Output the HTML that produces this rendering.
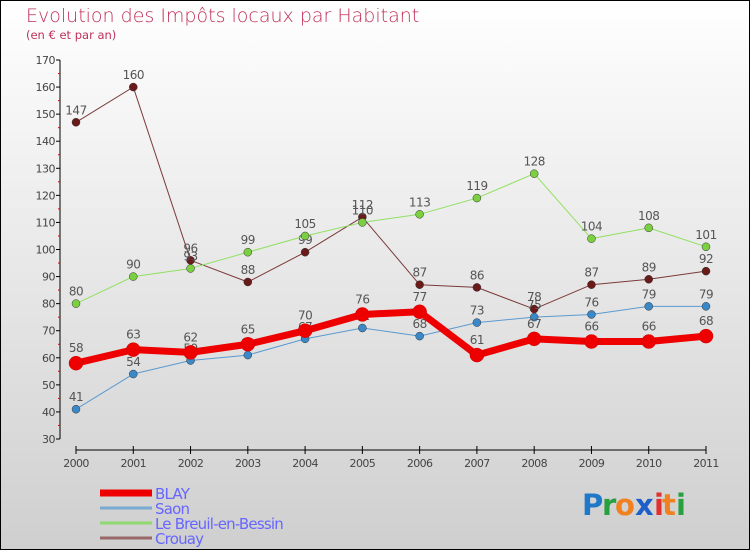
<!DOCTYPE html>
<html><head><meta charset="utf-8"><style>
html,body{margin:0;padding:0}
body{width:750px;height:550px;overflow:hidden;font-family:"DejaVu Sans","Liberation Sans",sans-serif}
svg text{font-family:"DejaVu Sans","Liberation Sans",sans-serif}
</style></head><body>
<svg id="chart" width="750" height="550" viewBox="0 0 750 550" xmlns="http://www.w3.org/2000/svg">
<defs><linearGradient id="bg" x1="0" y1="0" x2="0" y2="1"><stop offset="0" stop-color="#ffffff"/><stop offset="1" stop-color="#cfcfcf"/></linearGradient></defs>
<rect x="0.5" y="0.5" width="749" height="549" fill="url(#bg)" stroke="#000" stroke-width="1"/>
<text x="26" y="22" font-size="19" fill="#c0305a" font-weight="300">Evolution des Impôts locaux par Habitant</text>
<text x="26" y="39" font-size="11.5" fill="#c0305a">(en € et par an)</text>
<g id="axes"></g>
<g id="series"></g>
<g id="legend"></g>
<g font-size="29" font-weight="bold">
<text x="582" y="515" fill="#1f78c8" font-family="Liberation Sans,sans-serif">P</text>
<text x="602" y="515" fill="#28a040" font-family="Liberation Sans,sans-serif">r</text>
<text x="615" y="515" fill="#f08020" font-family="Liberation Sans,sans-serif">o</text>
<text x="635" y="515" fill="#1f60c8" font-family="Liberation Sans,sans-serif">x</text>
<text x="654" y="515" fill="#e03030" font-family="Liberation Sans,sans-serif">i</text>
<text x="662" y="515" fill="#f08020" font-family="Liberation Sans,sans-serif">t</text>
<text x="676" y="515" fill="#28a040" font-family="Liberation Sans,sans-serif">i</text>
</g>
</svg>
<script>
const years = [2000,2001,2002,2003,2004,2005,2006,2007,2008,2009,2010,2011];
const blay = [58,63,62,65,70,76,77,61,67,66,66,68];
const saon = [41,54,59,61,67,71,68,73,75,76,79,79];
const breuil = [80,90,93,99,105,110,113,119,128,104,108,101];
const crouay = [147,160,96,88,99,112,87,86,78,87,89,92];
const yTicks = [30,40,50,60,70,80,90,100,110,120,130,140,150,160,170];
const seriesNames = ["BLAY","Saon","Le Breuil-en-Bessin","Crouay"];

const NS="http://www.w3.org/2000/svg";
const X0=76, X1=706, Y30=439, Y170=60;
const x = i => X0 + i*(X1-X0)/(years.length-1);
const y = v => Y30 - (v-30)*(Y30-Y170)/140;
function mk(tag, attrs, parent){const e=document.createElementNS(NS,tag);for(const k in attrs)e.setAttribute(k,attrs[k]);parent.appendChild(e);return e;}
const axes=document.getElementById('axes');
const yAxis=mk('line',{x1:60,y1:Y170,x2:60,y2:Y30,stroke:'#000','stroke-width':1},axes);


yTicks.forEach((t,k)=>{
  const tk=mk('line',{x1:56,y1:y(t),x2:60,y2:y(t),stroke:'#000'},axes);
  
  
  const lb=mk('text',{x:55,y:y(t)+4,'font-size':11,'text-anchor':'end',fill:'#444','letter-spacing':'-0.5'},axes);
  lb.textContent=t;
  
  
  if(k<yTicks.length-1){
    const m=mk('line',{x1:58,y1:y(t+5),x2:60,y2:y(t+5),stroke:'#e00000'},axes);
    
    
  }
});
const xAxis=mk('line',{x1:X0,y1:450,x2:X1,y2:450,stroke:'#000','stroke-width':1},axes);


years.forEach((yr,i)=>{
  const tk=mk('line',{x1:x(i),y1:446,x2:x(i),y2:454,stroke:'#000'},axes);
  
  
  const lb=mk('text',{x:x(i),y:467,'font-size':11,'text-anchor':'middle',fill:'#444','letter-spacing':'-0.6'},axes);
  lb.textContent=yr;
  
  
});
const sg=document.getElementById('series');
const defs=[
  {name:'crouay',data:crouay,color:'#6b1a1a',lw:1,r:4,line:'#7a3a3a'},
  {name:'breuil',data:breuil,color:'#7ad040',lw:1,r:4,line:'#90e060'},
  {name:'saon',data:saon,color:'#3a88c8',lw:1,r:4,line:'#5a9ad0'},
  {name:'blay',data:blay,color:'#ee0000',lw:7,r:7,line:'#ee0000'}
];
defs.forEach(s=>{
  const g=mk('g',{},sg);
  
  
  const pl=mk('polyline',{points:s.data.map((v,i)=>x(i)+','+y(v)).join(' '),fill:'none',stroke:s.line,'stroke-width':s.lw,'stroke-linejoin':'round'},g);
  
  
  s.data.forEach((v,i)=>{
    const c=mk('circle',{cx:x(i),cy:y(v),r:s.r,fill:s.color,stroke:s.name==='blay'?'#d00000':'#333','stroke-width':0.5},g);
    
    
    const t=mk('text',{x:x(i),y:y(v)-(s.name==='blay'?11:8),'font-size':12,'text-anchor':'middle',fill:'#555','letter-spacing':'-0.5'},g);
    t.textContent=v;
    
    
  });
});
const lg=document.getElementById('legend');
const lcol=['#ee0000','#7aaad0','#90d870','#9a6868'];
const lws=[7,3,3,3];
seriesNames.forEach((n,k)=>{
  const yy=493+k*15;
  const g=mk('g',{},lg);
  
  
  const l=mk('line',{x1:100,x2:152,y1:yy,y2:yy,stroke:lcol[k],'stroke-width':lws[k]},g);
  
  
  const t=mk('text',{x:155,y:yy+6,'font-size':15,fill:'#6666ff','letter-spacing':'-0.8'},g);
  t.textContent=n;
  
  
});
</script>
</body></html>
